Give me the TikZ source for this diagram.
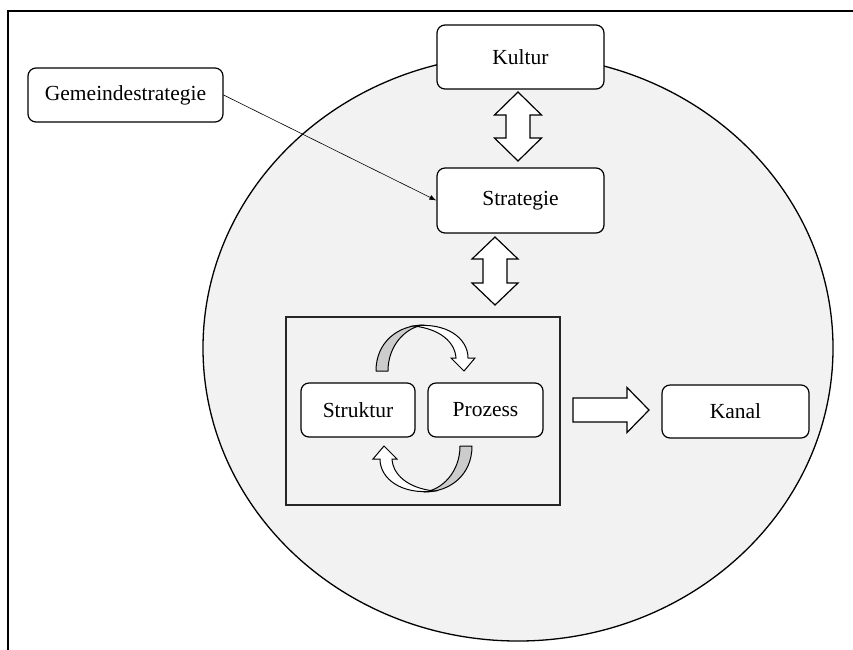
\documentclass[tikz,border=0pt]{standalone}
\usepackage{fontspec}
\setmainfont{Liberation Serif}
\usetikzlibrary{arrows.meta}
\definecolor{bgray}{HTML}{F2F2F2}
\definecolor{agray}{HTML}{CCCCCC}
\begin{document}
\begin{tikzpicture}[x=1pt,y=-1pt,
  box/.style={draw=black, fill=white, line width=1.2pt, rounded corners=8pt,
    font=\fontsize{21.5}{26}\selectfont, inner sep=0pt},
  blockarrow/.style={draw=black, fill=white, line width=1.2pt, line join=miter},
  curvegray/.style={draw=black, fill=agray, line width=1pt, line join=round},
  curvewhite/.style={draw=black, fill=white, line width=1pt, line join=miter},
]
\useasboundingbox (0,0) rectangle (853,649);
\clip (0,0) rectangle (853,649);
% frame
\draw[line width=2pt] (8,700) -- (8,11) -- (900,11);
% big ellipse
\draw[fill=bgray, line width=1.3pt] (518,348) ellipse [x radius=315, y radius=293];
% group rectangle
\node[draw=black!85, fill=bgray, line width=1.2pt, minimum width=274pt, minimum height=188pt, inner sep=0pt] (grp) at (423,411) {};
% boxes
\node[box, minimum width=167pt, minimum height=64pt] (kultur) at (520.5,57) {Kultur};
\node[box, minimum width=167pt, minimum height=65pt] (strat) at (520.5,200.5) {Strategie};
\node[box, minimum width=195pt, minimum height=54pt] (gem) at (125.5,95) {Gemeindestrategie};
\node[box, minimum width=114pt, minimum height=54pt] (struk) at (358,410) {Struktur};
\node[box, minimum width=115pt, minimum height=54pt] (proz) at (485.5,410) {Prozess};
\node[box, minimum width=147pt, minimum height=53pt] (kanal) at (735.5,411.5) {Kanal};
% thin connector
\draw[-{Latex[length=7pt,width=5pt]}, line width=0.6pt] (gem.east) -- (strat.west);
% double arrow Kultur <-> Strategie
\draw[blockarrow] (518,92) -- (541.5,115) -- (530,115) -- (530,138) -- (541.5,138) -- (518,161)
  -- (494.5,138) -- (506,138) -- (506,115) -- (494.5,115) -- cycle;
% double arrow Strategie <-> group
\draw[blockarrow] (495,237) -- (518,259) -- (507,259) -- (507,283) -- (518,283) -- (495,305)
  -- (472,283) -- (483,283) -- (483,259) -- (472,259) -- cycle;
% right block arrow group -> Kanal
\draw[blockarrow] (573,398) -- (627,398) -- (627,387.5) -- (649,410) -- (627,432.5) -- (627,422)
  -- (573,422) -- cycle;
% curved arrows
\draw[curvegray] (376,371) .. controls (376,342) and (398,325) .. (424,325)
  .. controls (406,327) and (388,345) .. (388,371) -- cycle;
\draw[curvewhite] (414,326) .. controls (446,322) and (468,338) .. (468,358) -- (475,358)
  -- (464,371) -- (451,358) -- (456,358) .. controls (455,342) and (440,329) .. (414,326) -- cycle;
\begin{scope}[rotate around={180:(424,408.5)}]
\draw[curvegray] (376,371) .. controls (376,342) and (398,325) .. (424,325)
  .. controls (406,327) and (388,345) .. (388,371) -- cycle;
\draw[curvewhite] (414,326) .. controls (446,322) and (468,338) .. (468,358) -- (475,358)
  -- (464,371) -- (451,358) -- (456,358) .. controls (455,342) and (440,329) .. (414,326) -- cycle;
\end{scope}
\end{tikzpicture}
\end{document}
